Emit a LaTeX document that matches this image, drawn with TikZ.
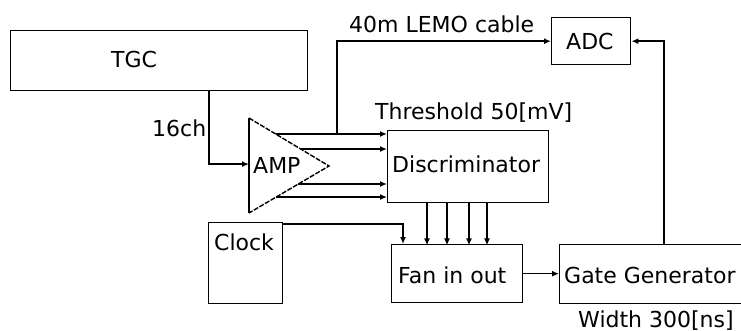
\documentclass[tikz,border=0pt]{standalone}
\usepackage{fontspec}
\setmainfont{DejaVu Sans}
\usetikzlibrary{arrows.meta,calc}
\begin{document}
\begin{tikzpicture}[x=1pt,y=-1pt,
  box/.style={draw, line width=1.4pt, inner sep=0pt, anchor=north west},
  lbl/.style={font=\fontsize{22}{26}\selectfont, inner sep=0pt, anchor=base west},
  wire/.style={line width=1.4pt},
  arr/.style={wire, -{Latex[length=7pt,width=6pt]}}]
\useasboundingbox (0,0) rectangle (741,331);
% boxes
\node[box, minimum width=297pt, minimum height=60pt] (tgc) at (10,30) {};
\node[box, minimum width=79pt, minimum height=47pt] (adc) at (551,17) {};
\node[box, minimum width=161pt, minimum height=72pt] (disc) at (387,130) {};
\node[box, minimum width=74pt, minimum height=81pt] (clock) at (208,222) {};
\node[box, minimum width=131pt, minimum height=58pt] (fan) at (391,244) {};
\node[box, minimum width=200pt, minimum height=59pt] (gg) at (559,244) {};
% amplifier
\coordinate (a1) at (249,118);
\coordinate (a2) at (249,213);
\coordinate (a3) at (329,166);
\draw[wire] (a1) -- (a2);
\draw[wire, dash pattern=on 5pt off 1.5pt] (a1) -- (a3) -- (a2);
% texts
\node[lbl] (tgct) at (111,68) {TGC};
\node[lbl] (adct) at (566,50) {ADC};
\node[lbl] (disct) at (392,173) {Discriminator};
\node[lbl] (ampt) at (253,174) {AMP};
\node[lbl] (clockt) at (214,250) {Clock};
\node[lbl] (fant) at (398,283) {Fan in out};
\node[lbl] (ggt) at (564,283) {Gate Generator};
\node[lbl] (ch) at (152,137) {16ch};
\node[lbl] (thr) at (375,120) {Threshold 50[mV]};
\node[lbl] (lemo) at (349,33) {40m LEMO cable};
\node[lbl] (wid) at (578,327) {Width 300[ns]};
% connectors
\draw[arr] ($(tgc.south west)+(199,0)$) |- ($(a1)!0.485!(a2)$);
\coordinate (o1) at ($(a1)!0.333!(a3)$);
\coordinate (o2) at ($(a1)!0.646!(a3)$);
\coordinate (o3) at ($(a2)!0.617!(a3)$);
\coordinate (o4) at ($(a2)!0.34!(a3)$);
\draw[arr] (o1) -- (o1 -| disc.west);
\draw[arr] (o2) -- (o2 -| disc.west);
\draw[arr] (o3) -- (o3 -| disc.west);
\draw[arr] (o4) -- (o4 -| disc.west);
\coordinate (br) at ($(o1)+(61.3,0)$);
\draw[arr] (br) |- (adc.west);
\draw[arr] ($(gg.north west)+(105,0)$) |- (adc.east);
\foreach \xx in {40,60,82,100}{
  \draw[arr] ($(disc.south west)+(\xx,0)$) -- ($(disc.south west)+(\xx,42)$);
}
\draw[arr] ($(clock.north east)+(0,2)$) -| ($(fan.north west)+(12,0)$);
\draw[arr] (fan.east) -- (fan.east -| gg.west);
\end{tikzpicture}
\end{document}
